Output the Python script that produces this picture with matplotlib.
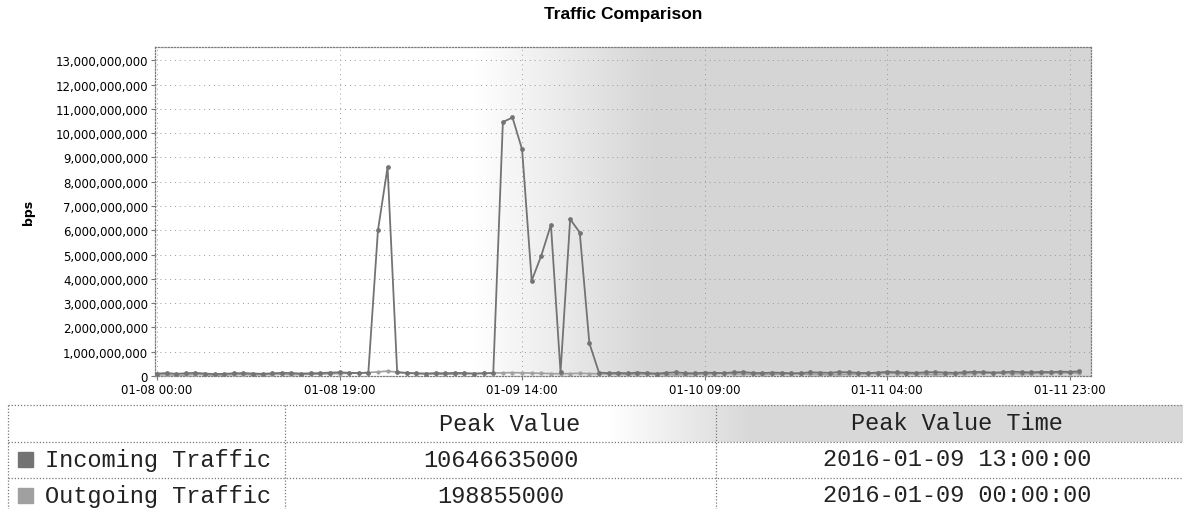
import numpy as np
import matplotlib
matplotlib.use("Agg")
import matplotlib.pyplot as plt
from matplotlib.ticker import FuncFormatter, MultipleLocator
from matplotlib.patches import Rectangle

# hourly samples starting 01-08 00:00, values in units of 1e9 bps
incoming = [0.10, 0.12, 0.09, 0.11, 0.13, 0.10, 0.08, 0.09, 0.11, 0.12, 0.10, 0.09,
            0.11, 0.13, 0.12, 0.10, 0.11, 0.12, 0.14, 0.15, 0.13, 0.12,
            0.14, 6.00, 8.60, 0.15,
            0.13, 0.11, 0.10, 0.12, 0.11, 0.13, 0.12, 0.10, 0.11,
            0.12, 10.46, 10.646635, 9.33, 3.93, 4.96, 6.23, 0.15, 6.46, 5.91, 1.35, 0.14,
            0.12, 0.13, 0.11, 0.14, 0.12, 0.10, 0.13, 0.15, 0.12, 0.11, 0.14, 0.13,
            0.12, 0.15, 0.16, 0.13, 0.12, 0.14, 0.13, 0.11, 0.12, 0.15, 0.14, 0.13,
            0.16, 0.15, 0.13, 0.12, 0.14, 0.17, 0.15, 0.14, 0.13, 0.15, 0.16, 0.14,
            0.13, 0.15, 0.17, 0.16, 0.14, 0.15, 0.18, 0.16, 0.15, 0.17, 0.16, 0.18,
            0.17, 0.19]
outgoing = [0.04, 0.05, 0.03, 0.04, 0.06, 0.05, 0.03, 0.04, 0.05, 0.06, 0.04, 0.05,
            0.06, 0.07, 0.05, 0.06, 0.07, 0.08, 0.09, 0.10, 0.11, 0.12,
            0.14, 0.17, 0.198855, 0.16,
            0.12, 0.10, 0.09, 0.08, 0.07, 0.08, 0.09, 0.10, 0.11,
            0.12, 0.13, 0.14, 0.13, 0.12, 0.11, 0.10, 0.09, 0.10, 0.11, 0.10, 0.09,
            0.08, 0.07, 0.06, 0.07, 0.08, 0.07, 0.06, 0.05, 0.06, 0.07, 0.08, 0.09,
            0.10, 0.09, 0.08, 0.07, 0.06, 0.07, 0.08, 0.09, 0.08, 0.07, 0.06, 0.05,
            0.06, 0.07, 0.08, 0.09, 0.10, 0.11, 0.10, 0.09, 0.08, 0.07, 0.06, 0.07,
            0.08, 0.09, 0.10, 0.11, 0.12, 0.11, 0.10, 0.09, 0.10, 0.11, 0.12, 0.13,
            0.12, 0.11]
hours = np.arange(len(incoming))

tick_hours = [0, 19, 38, 57, 76, 95]
tick_labels = ["01-08 00:00", "01-08 19:00", "01-09 14:00",
               "01-10 09:00", "01-11 04:00", "01-11 23:00"]

series_names = ["Incoming Traffic", "Outgoing Traffic"]
series_colors = ["#737373", "#a0a0a0"]
col_headers = ["Peak Value", "Peak Value Time"]
peak_values = ["10646635000", "198855000"]
peak_times = ["2016-01-09 13:00:00", "2016-01-09 00:00:00"]

W, H = 1183, 510
fig = plt.figure(figsize=(W / 100, H / 100), dpi=100)
fig.patch.set_facecolor("white")

ax = fig.add_axes([155 / W, 1 - 377 / H, 936 / W, 329 / H])
ax.set_facecolor("white")

# grey scan tone over right part of the plot
u = np.linspace(0, 1, 400)
a = np.clip((u - 0.34) / 0.19, 0, 1) * 0.9
img = np.zeros((1, len(u), 4))
img[..., :3] = 0.82
img[..., 3] = a
ax.imshow(img, extent=[0, 1, 0, 1], transform=ax.transAxes, aspect="auto",
          zorder=0, interpolation="bilinear")

ax.plot(hours, np.array(outgoing) * 1e9, color=series_colors[1], lw=1.2,
        marker="o", ms=2, zorder=3)
ax.plot(hours, np.array(incoming) * 1e9, color=series_colors[0], lw=1.3,
        marker="o", ms=2.4, zorder=4)

ax.set_xlim(-0.2, 97.2)
ax.set_ylim(0, 13.55e9)
ax.yaxis.set_major_locator(MultipleLocator(1e9))
ax.yaxis.set_major_formatter(FuncFormatter(lambda v, p: f"{int(round(v)):,}"))
ax.set_xticks(tick_hours)
ax.set_xticklabels(tick_labels)
ax.tick_params(labelsize=8.5, length=3, color="#777777", pad=2)
ax.grid(True, color="#9a9a9a", lw=0.7, linestyle=(0, (1, 4)))
ax.set_axisbelow(True)
for s in ax.spines.values():
    s.set_color("#7a7a7a")
    s.set_linewidth(0.9)
    s.set_linestyle((0, (1, 1.5)))
ax.set_ylabel("bps", fontsize=9, fontweight="bold")
ax.yaxis.set_label_coords(-0.128, 0.5)
ax.set_title("Traffic Comparison", fontsize=12.5, fontweight="bold",
             family="Liberation Sans", pad=21)

# peak table under the chart
tab = fig.add_axes([0, 0, 1, 1], zorder=-1)
tab.set_xlim(0, W)
tab.set_ylim(H, 0)
tab.axis("off")

u2 = np.linspace(0, 1, 400)
img2 = np.zeros((1, len(u2), 4))
img2[..., :3] = 0.82
img2[..., 3] = np.clip((u2 - 0.36) / 0.16, 0, 1) * 0.85
tab.imshow(img2, extent=[285, W, 443, 406], aspect="auto", interpolation="bilinear")

line_kw = dict(color="#777777", lw=0.9, linestyle=(0, (1, 1.5)))
for yy in [406, 443, 479]:
    tab.plot([8, W], [yy, yy], **line_kw)
for xx in [8, 285, 716]:
    tab.plot([xx, xx], [406, H], **line_kw)

mono = dict(family="Liberation Mono", fontsize=17, color="#222222")
tab.text(510, 425, col_headers[0], ha="center", va="center", **mono)
tab.text(957, 424, col_headers[1], ha="center", va="center", **mono)
for i, name in enumerate(series_names):
    yc = 461 + i * 36
    tab.add_patch(Rectangle((18, yc - 8), 15, 15, color=series_colors[i]))
    tab.text(45, yc, name, ha="left", va="center", **mono)
    tab.text(501, yc, peak_values[i], ha="center", va="center", **mono)
    tab.text(957, yc - 1, peak_times[i], ha="center", va="center", **mono)

fig.savefig("out.png", dpi=100)
